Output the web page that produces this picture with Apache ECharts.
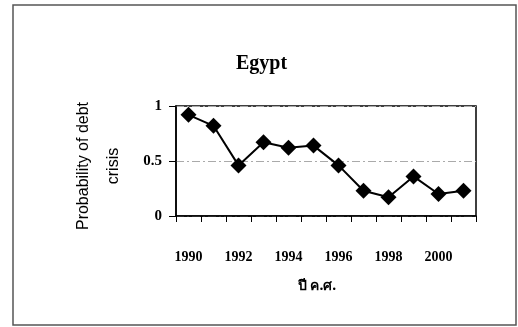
<!DOCTYPE html>
<html>
<head>
<meta charset="utf-8">
<script src="https://cdn.jsdelivr.net/npm/echarts@6/dist/echarts.min.js"></script>
<style>
html,body{margin:0;padding:0;background:#fff;}
#chart{width:518px;height:327px;}
</style>
</head>
<body>
<div id="chart"></div>
<script>
var years = ['1990','1991','1992','1993','1994','1995','1996','1997','1998','1999','2000','2001'];
var probability = [0.92, 0.82, 0.46, 0.67, 0.62, 0.64, 0.46, 0.23, 0.17, 0.36, 0.20, 0.23];
var titleText = 'Egypt';
var yAxisTitle = 'Probability of debt\ncrisis';
var xAxisTitle = 'ปี ค.ศ.';

var chart = echarts.init(document.getElementById('chart'));
chart.setOption({
  backgroundColor: '#fff',
  animation: false,
  graphic: [{
    type: 'rect',
    shape: {x: 13, y: 5, width: 503, height: 320},
    style: {fill: 'none', stroke: '#555', lineWidth: 1.5},
    silent: true
  }],
  title: {
    text: titleText,
    left: 231,
    top: 49,
    textStyle: {fontFamily: 'Liberation Serif', fontWeight: 'bold', fontSize: 20, color: '#000'}
  },
  grid: {
    left: 176, right: 42, top: 106, bottom: 111,
    show: true, borderColor: '#000', borderWidth: 1.5, backgroundColor: 'transparent'
  },
  xAxis: {
    type: 'category',
    data: years,
    boundaryGap: true,
    axisLine: {lineStyle: {color: '#000', width: 1.5}},
    axisTick: {show: true, length: 6, interval: 0, lineStyle: {color: '#000', width: 1}},
    axisLabel: {
      interval: 1, margin: 34, color: '#000',
      fontFamily: 'Liberation Serif', fontWeight: 'bold', fontSize: 14
    },
    name: xAxisTitle,
    nameLocation: 'middle',
    nameGap: 63,
    nameTextStyle: {fontFamily: 'Noto Sans', fontWeight: 'bold', fontSize: 14, color: '#000', padding: [0, 18, 0, 0]},
    splitLine: {show: false}
  },
  yAxis: {
    type: 'value',
    min: 0, max: 1, interval: 0.5,
    axisLine: {show: true, lineStyle: {color: '#000', width: 1.5}},
    axisTick: {show: true, length: 7, lineStyle: {color: '#000', width: 1}},
    axisLabel: {margin: 14, color: '#000', fontFamily: 'Liberation Serif', fontWeight: 'bold', fontSize: 15},
    splitLine: {show: true, lineStyle: {color: '#aaa', width: 1, type: [8, 3, 2, 3]}},
    name: yAxisTitle,
    nameLocation: 'middle',
    nameRotate: 90,
    nameGap: 47,
    nameTextStyle: {fontFamily: 'Liberation Sans', fontSize: 16, color: '#000', lineHeight: 30, align: 'center', padding: [0, 10, 0, 0]}
  },
  series: [{
    type: 'line',
    data: probability,
    symbol: 'diamond',
    symbolSize: 16,
    itemStyle: {color: '#000'},
    lineStyle: {color: '#000', width: 2},
    z: 5
  }]
});
</script>
</body>
</html>
